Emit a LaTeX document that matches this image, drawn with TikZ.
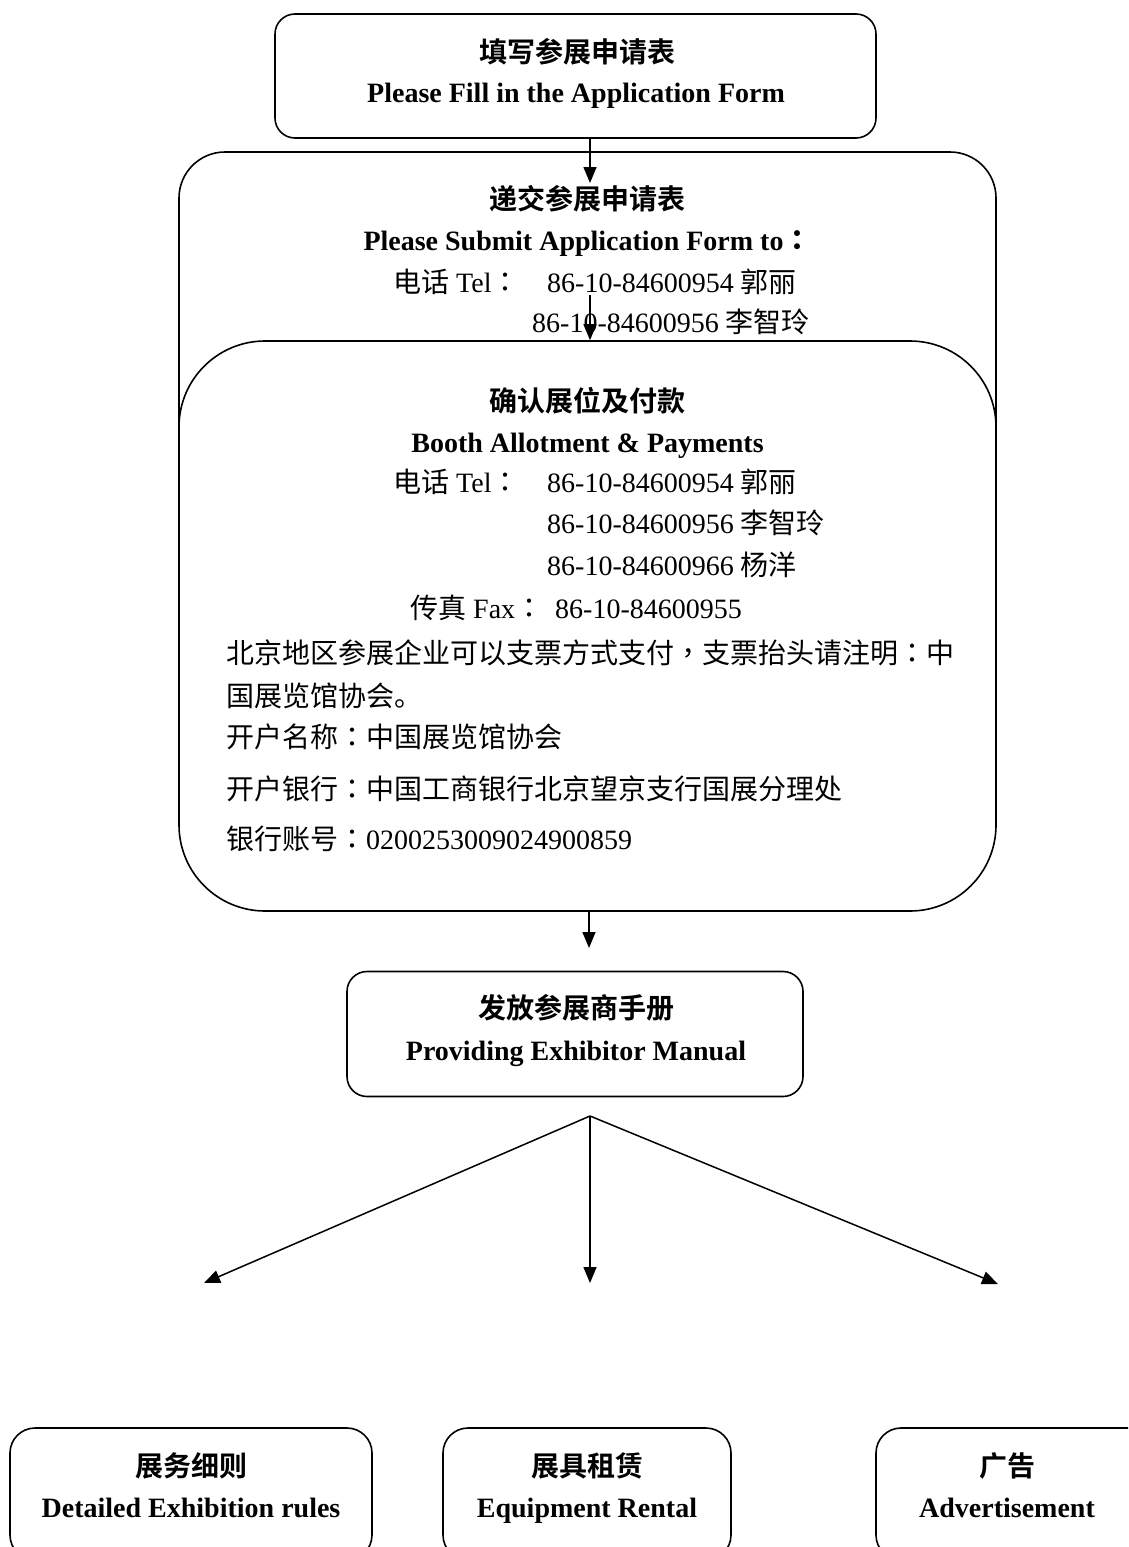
\documentclass[tikz,border=0pt]{standalone}
\usepackage{fontspec}
\setmainfont{Liberation Serif}
\newfontfamily\zh{Noto Sans CJK SC}
\newfontfamily\zhb{Noto Sans CJK SC Bold}
\newfontfamily\zhp{Noto Sans CJK TC}
\newfontfamily\zhpb{Noto Sans CJK TC Bold}
\newcommand{\cco}{{\zhp ：}}
\newcommand{\ccm}{{\zhp ，}}
\usetikzlibrary{arrows.meta}
\begin{document}
\begin{tikzpicture}[x=1pt,y=-1pt,
  box/.style={draw, line width=1.6pt, rounded corners=#1, inner sep=0pt, fill=white},
  txt/.style={inner sep=0pt, anchor=base, font=\fontsize{28}{34}\selectfont},
  txtl/.style={inner sep=0pt, anchor=base west, font=\fontsize{28}{34}\selectfont},
  arr/.style={line width=1.5pt, -{Triangle[length=16pt,width=13pt]}}]
\useasboundingbox (0,0) rectangle (1128,1547);
\clip (0,0) rectangle (1128,1547);
% box 1
\node[box=20, minimum width=601pt, minimum height=124pt] (b1) at (575.5,76) {};
\node[txt] (b1z) at (577,62) {\zhb 填写参展申请表};
\node[txt] (b1e) at (576,102) {\bfseries Please Fill in the Application Form};
% box 2
\node[box=46, minimum width=817pt, minimum height=470pt] (b2) at (587.5,387) {};
\node[txt] (b2z) at (587.5,209) {\zhb 递交参展申请表};
\node[txt] (b2e) at (587.5,250) {\bfseries Please Submit Application Form to{\zhpb ：}};
\node[txtl] (b2t) at (393,292) {{\zh 电话} Tel\cco};
\node[txtl] (b2n1) at (547,292) {86-10-84600954 {\zh 郭丽}};
\node[txtl] (b2n2) at (532,332) {86-10-84600956 {\zh 李智玲}};
% arrows top
\coordinate (a1) at (590,183);
\draw[arr] (b1.south -| a1) -- (a1);
% box 3
\node[box=86, minimum width=817pt, minimum height=570pt] (b3) at (587.5,626) {};
\coordinate (a2s) at (590,295);
\draw[arr] (a2s) -- (a2s |- b3.north);
\node[txt] (b3z) at (587.5,411) {\zhb 确认展位及付款};
\node[txt] (b3e) at (587.5,452) {\bfseries Booth Allotment \& Payments};
\node[txtl] (b3t) at (393,492) {{\zh 电话} Tel\cco};
\node[txtl] (b3n1) at (547,492) {86-10-84600954 {\zh 郭丽}};
\node[txtl] (b3n2) at (547,533) {86-10-84600956 {\zh 李智玲}};
\node[txtl] (b3n3) at (547,575) {86-10-84600966 {\zh 杨洋}};
\node[txtl] (b3f) at (410,618) {{\zh 传真} Fax\cco};
\node[txtl] (b3fn) at (555,618) {86-10-84600955};
\node[txtl] (b3l1) at (226,663) {\zh 北京地区参展企业可以支票方式支付\ccm 支票抬头请注明\cco 中};
\node[txtl] (b3l2) at (226,706) {\zh 国展览馆协会。};
\node[txtl] (b3l3) at (226,747) {\zh 开户名称\cco 中国展览馆协会};
\node[txtl] (b3l4) at (226,799) {\zh 开户银行\cco 中国工商银行北京望京支行国展分理处};
\node[txtl] (b3l5) at (226,849) {{\zh 银行账号}\cco 0200253009024900859};
% arrow 3
\coordinate (a3) at (589,948);
\draw[arr] (b3.south -| a3) -- (a3);
% box 4
\node[box=20, minimum width=456pt, minimum height=125pt] (b4) at (575,1034) {};
\node[txt] (b4z) at (576,1018) {\zhb 发放参展商手册};
\node[txt] (b4e) at (576,1060) {\bfseries Providing Exhibitor Manual};
% fan arrows
\coordinate (fan) at (590,1116);
\coordinate (tl) at (204,1283);
\coordinate (tm) at (590,1283);
\coordinate (tr) at (998,1284);
\draw[arr] (fan) -- (tl);
\draw[arr] (fan) -- (tm);
\draw[arr] (fan) -- (tr);
% bottom boxes
\node[box=25, minimum width=362pt, minimum height=132pt] (ba) at (191,1494) {};
\node[box=25, minimum width=288pt, minimum height=132pt] (bb) at (587,1494) {};
\node[box=25, minimum width=400pt, minimum height=132pt] (bc) at (1076,1494) {};
\node[txt] (baz) at (191,1476) {\zhb 展务细则};
\node[txt] (bae) at (191,1517) {\bfseries Detailed Exhibition rules};
\node[txt] (bbz) at (587,1476) {\zhb 展具租赁};
\node[txt] (bbe) at (587,1517) {\bfseries Equipment Rental};
\node[txt] (bcz) at (1007,1476) {\zhb 广告};
\node[txt] (bce) at (1007,1517) {\bfseries Advertisement};
\end{tikzpicture}
\end{document}
